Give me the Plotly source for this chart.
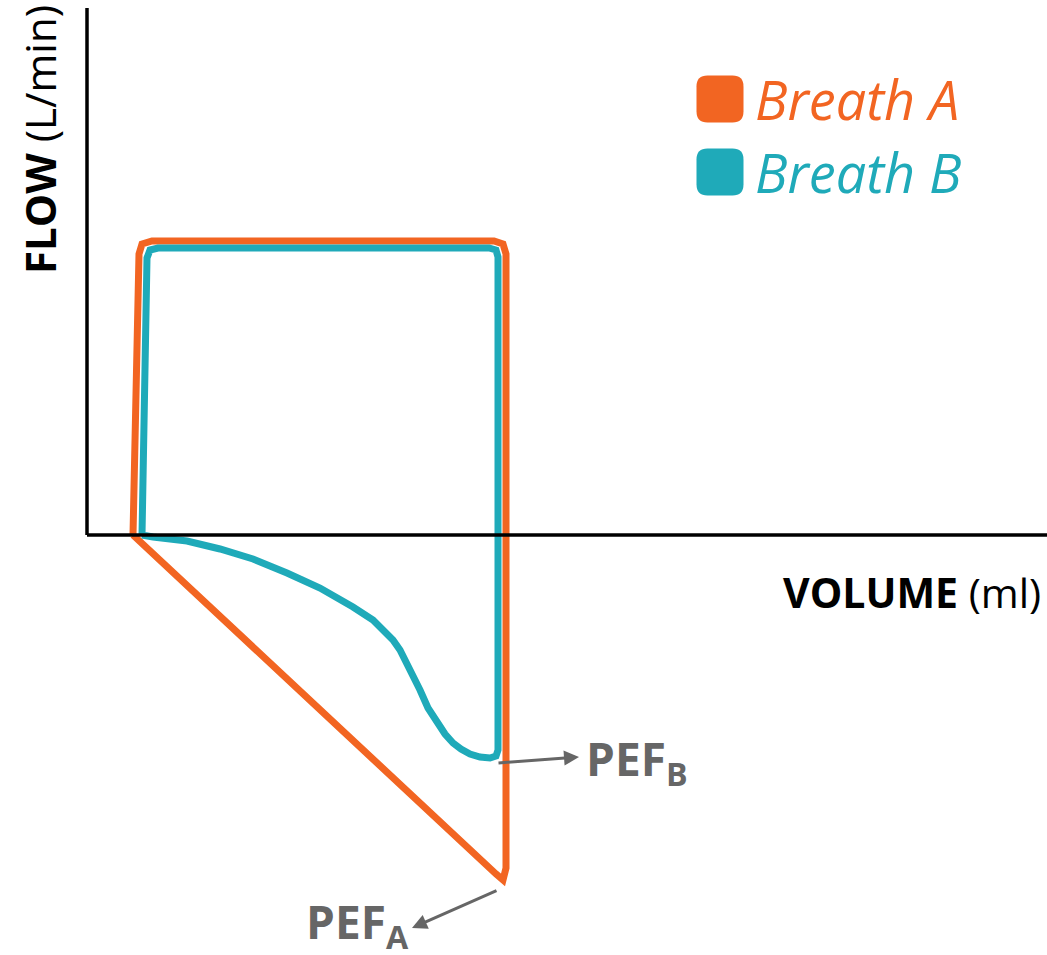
import plotly.graph_objects as go

W, H = 1047, 955

# Breath A loop (volume in ml, flow in L/min; arbitrary units)
volume_a = [46, 52, 55, 65, 407, 416, 419, 419, 416, 409, 46]
flow_a = [0, 281, 291, 294, 294, 291, 281, -333, -345, -339, 0]

# Breath B loop
volume_b = [55, 60, 63, 71, 402, 409, 411, 411, 409, 403, 393, 383, 374, 366, 358, 350, 341, 333, 323, 318, 313, 306,
            296, 286, 266, 233, 200, 166, 133, 100, 66, 55]
flow_b = [0, 277, 285, 287, 287, 285, 278, -215, -221, -223, -222, -219, -214, -208, -199, -188, -173, -155, -135, -123, -115, -105,
          -95, -85, -72, -53, -38, -24, -14, -6, -2, 0]

series_names = ["Breath A", "Breath B"]
colors = ["#F26522", "#1FAAB9"]

# axes extents
x_min, x_max = -87, 960
y_min, y_max = -420, 535

def px_x(p):
    return p / W

def px_y(p):
    return 1 - p / H

fig = go.Figure()
fig.add_trace(go.Scatter(x=volume_a, y=flow_a, mode="lines",
                         line=dict(color=colors[0], width=7, shape="linear"),
                         showlegend=False, hoverinfo="skip"))
fig.add_trace(go.Scatter(x=volume_b, y=flow_b, mode="lines",
                         line=dict(color=colors[1], width=7, shape="linear"),
                         showlegend=False, hoverinfo="skip"))

shapes = [
    dict(type="line", xref="x", yref="y", x0=0, x1=0, y0=0, y1=527,
         line=dict(color="black", width=3.5)),
    dict(type="line", xref="x", yref="y", x0=0, x1=x_max, y0=0, y1=0,
         line=dict(color="black", width=3.5)),
]

# legend rounded squares
def rounded_square(cx, cy, size, r):
    x0, x1 = cx - size / 2, cx + size / 2
    y0, y1 = cy - size / 2, cy + size / 2
    return (f"M {x0+r},{y0} L {x1-r},{y0} Q {x1},{y0} {x1},{y0+r} "
            f"L {x1},{y1-r} Q {x1},{y1} {x1-r},{y1} L {x0+r},{y1} "
            f"Q {x0},{y1} {x0},{y1-r} L {x0},{y0+r} Q {x0},{y0} {x0+r},{y0} Z")

annotations = []
leg_y = [99, 172]
for name, col, ly in zip(series_names, colors, leg_y):
    shapes.append(dict(type="path", xref="x", yref="y",
                       path=rounded_square(720 - 87, 535 - ly, 47, 11),
                       fillcolor=col, line=dict(width=0)))
    annotations.append(dict(text=f"<i>{name}</i>", x=px_x(753), y=px_y(ly), xref="paper", yref="paper",
                            xanchor="left", yanchor="middle", showarrow=False,
                            font=dict(family="Open Sans", size=54, color=col)))

annotations.append(dict(text="<b>VOLUME</b> (ml)", x=px_x(1043), y=px_y(592), xref="paper", yref="paper",
                        xanchor="right", yanchor="middle", showarrow=False,
                        font=dict(family="Open Sans", size=41, color="black")))
annotations.append(dict(text="<b>FLOW</b> (L/min)", x=px_x(40), y=px_y(140), xref="paper", yref="paper",
                        xanchor="center", yanchor="middle", showarrow=False, textangle=-90,
                        font=dict(family="Open Sans", size=42, color="black")))

gray = "#666666"
# PEF B arrow
annotations.append(dict(x=px_x(579), y=px_y(757), xref="paper", yref="paper",
                        ax=-82, ay=6, text="", showarrow=True,
                        arrowhead=2, arrowsize=1, arrowwidth=3, arrowcolor=gray))
annotations.append(dict(text="<b>PEF<sub>B</sub></b>", x=px_x(584), y=px_y(761), xref="paper", yref="paper",
                        xanchor="left", yanchor="middle", showarrow=False,
                        font=dict(family="Open Sans", size=46, color=gray)))
# PEF A arrow
annotations.append(dict(x=px_x(412), y=px_y(928), xref="paper", yref="paper",
                        ax=86, ay=-38, text="", showarrow=True,
                        arrowhead=2, arrowsize=1, arrowwidth=3, arrowcolor=gray))
annotations.append(dict(text="<b>PEF<sub>A</sub></b>", x=px_x(304), y=px_y(924), xref="paper", yref="paper",
                        xanchor="left", yanchor="middle", showarrow=False,
                        font=dict(family="Open Sans", size=46, color=gray)))

fig.update_layout(
    width=W, height=H,
    margin=dict(l=0, r=0, t=0, b=0),
    paper_bgcolor="white", plot_bgcolor="white",
    xaxis=dict(range=[x_min, x_max], visible=False, fixedrange=True),
    yaxis=dict(range=[y_min, y_max], visible=False, fixedrange=True),
    shapes=shapes, annotations=annotations,
)

fig.write_html("out.html", config={"displayModeBar": False},
               post_script="document.body.style.margin='0';document.body.style.overflow='hidden';")
